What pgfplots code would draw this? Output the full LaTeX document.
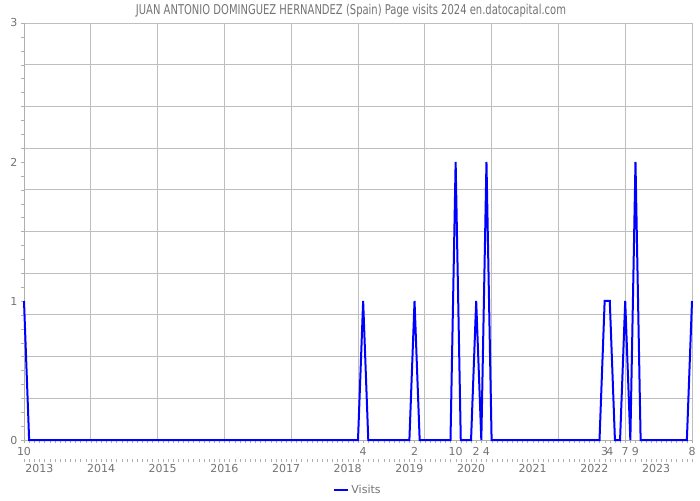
\documentclass[border=0pt]{standalone}
\usepackage{pgfplots}
\pgfplotsset{compat=1.18}
\usepackage{fontspec}
\setmainfont{DejaVu Sans}
\newfontfamily\titlefont[FakeStretch=0.74]{DejaVu Sans}
\definecolor{txt}{RGB}{115,115,115}
\definecolor{gridc}{RGB}{190,190,190}
\definecolor{axc}{RGB}{175,175,175}
\begin{document}
\begin{tikzpicture}[x=1pt,y=1pt]
\useasboundingbox (0,0) rectangle (700,500);
\node[text=txt, font=\titlefont\fontsize{13.5}{15}\selectfont] at (351,489) {JUAN ANTONIO DOMINGUEZ HERNANDEZ (Spain) Page visits 2024 en.datocapital.com};
\begin{axis}[
  at={(24pt,60pt)}, anchor=south west, scale only axis,
  width=668pt, height=417pt,
  xmin=0, xmax=130, ymin=0, ymax=3,
  axis lines=left, axis line style={-, draw=axc},
  /pgf/number format/assume math mode=true,
  tick align=outside, tick style={draw=axc},
  major tick length=0pt, minor tick length=3pt,
  xtick={0,13,...,130}, xticklabels={},
  ytick={0,0.3,0.6,0.9,1.2,1.5,1.8,2.1,2.4,2.7,3}, yticklabels={},
  minor xtick={0,1,...,130},
  minor ytick={0,0.1,0.2,0.3,0.4,0.5,0.6,0.7,0.8,0.9,1,1.1,1.2,1.3,1.4,1.5,1.6,1.7,1.8,1.9,2,2.1,2.2,2.3,2.4,2.5,2.6,2.7,2.8,2.9,3},
  xmajorgrids, ymajorgrids, major grid style={draw=gridc, line width=0.8pt},
  extra x ticks={0,66,76,84,88,90,113,114,117,119,130},
  extra x tick labels={10,4,2,10,2,4,3,4,7,9,8},
  extra y ticks={0,1,2,3},
  extra y tick labels={0,1,2,3},
  extra tick style={grid=none, major tick length=0pt},
  tick label style={font=\fontsize{11}{13}\selectfont, text=txt},
  xticklabel style={yshift=-4pt},
  yticklabel style={xshift=-3pt},
  legend style={at={(0.5,-0.12)}, anchor=center, draw=none, fill=none,
    font=\fontsize{11}{13}\selectfont, text=txt},
  legend image code/.code={\draw[#1] (0pt,0pt) -- (14pt,0pt);},
  clip=false,
]
\addplot[draw=blue, line width=2pt, sharp plot, mark=none] coordinates {
(0,1)(1,0)(2,0)(3,0)(4,0)(5,0)(6,0)(7,0)(8,0)(9,0)(10,0)(11,0)(12,0)(13,0)(14,0)(15,0)(16,0)(17,0)(18,0)(19,0)(20,0)
(21,0)(22,0)(23,0)(24,0)(25,0)(26,0)(27,0)(28,0)(29,0)(30,0)(31,0)(32,0)(33,0)(34,0)(35,0)(36,0)(37,0)(38,0)(39,0)(40,0)
(41,0)(42,0)(43,0)(44,0)(45,0)(46,0)(47,0)(48,0)(49,0)(50,0)(51,0)(52,0)(53,0)(54,0)(55,0)(56,0)(57,0)(58,0)(59,0)(60,0)
(61,0)(62,0)(63,0)(64,0)(65,0)(66,1)(67,0)(68,0)(69,0)(70,0)(71,0)(72,0)(73,0)(74,0)(75,0)(76,1)(77,0)(78,0)(79,0)(80,0)
(81,0)(82,0)(83,0)(84,2)(85,0)(86,0)(87,0)(88,1)(89,0)(90,2)(91,0)(92,0)(93,0)(94,0)(95,0)(96,0)(97,0)(98,0)(99,0)(100,0)
(101,0)(102,0)(103,0)(104,0)(105,0)(106,0)(107,0)(108,0)(109,0)(110,0)(111,0)(112,0)(113,1)(114,1)(115,0)(116,0)(117,1)(118,0)(119,2)(120,0)
(121,0)(122,0)(123,0)(124,0)(125,0)(126,0)(127,0)(128,0)(129,0)(130,1)
};
\addlegendentry{Visits}
\end{axis}
\begin{axis}[
  at={(24pt,41pt)}, anchor=south west, scale only axis,
  width=668pt, height=10pt,
  xmin=0, xmax=130, ymin=0, ymax=1,
  axis x line*=bottom, hide y axis, x axis line style={draw=none},
  tick align=outside, tick style={draw=axc},
  major tick length=0pt, minor tick length=3pt,
  xtick={3,15,27,39,51,63,75,87,99,111,123},
  xticklabels={2013,2014,2015,2016,2017,2018,2019,2020,2021,2022,2023},
  minor xtick={0,1,...,130},
  tick label style={font=\fontsize{11}{13}\selectfont, text=txt},
  xticklabel style={yshift=-2pt},
]
\end{axis}
\end{tikzpicture}
\end{document}
